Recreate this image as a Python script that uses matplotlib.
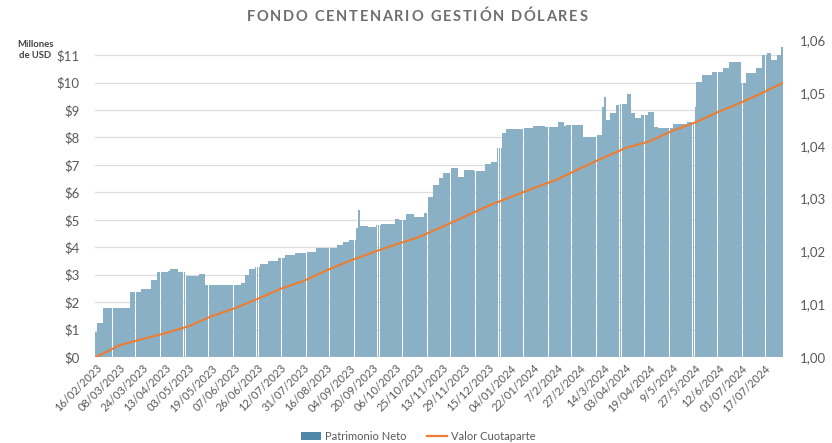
import matplotlib
matplotlib.use("Agg")
import matplotlib.pyplot as plt
from matplotlib.patches import Patch
from matplotlib.lines import Line2D
import numpy as np

# ---------------- data ----------------
title = "FONDO CENTENARIO GESTIÓN DÓLARES"

tick_labels = [
    "16/02/2023", "08/03/2023", "24/03/2023", "13/04/2023", "03/05/2023",
    "19/05/2023", "07/06/2023", "26/06/2023", "12/07/2023", "31/07/2023",
    "16/08/2023", "04/09/2023", "20/09/2023", "06/10/2023", "25/10/2023",
    "13/11/2023", "29/11/2023", "15/12/2023", "04/01/2024", "22/01/2024",
    "7/2/2024", "27/2/2024", "14/3/2024", "03/04/2024", "19/04/2024",
    "9/5/2024", "27/5/2024", "12/6/2024", "01/07/2024", "17/07/2024",
]
label_step = 12  # one label every 12 business days

# Patrimonio Neto (millions of USD), one value per business day
patrimonio = [
    0.92, 1.23, 1.23, 1.23, 1.77, 1.77, 1.77, 1.77, 1.77, 1.77, 1.77, 1.77,
    1.77, 1.77, 1.77, 1.77, 1.77, 1.77, 2.36, 2.36, 2.36, 2.36, 2.36, 2.36,
    2.47, 2.47, 2.47, 2.47, 2.47, 2.80, 2.80, 2.80, 3.11, 3.11, 3.11, 3.11,
    3.11, 3.11, 3.14, 3.20, 3.20, 3.20, 3.20, 3.11, 3.11, 3.11, 3.11, 2.95,
    2.95, 2.95, 2.95, 2.95, 2.95, 2.95, 3.02, 3.02, 3.02, 2.62, 2.62, 2.62,
    2.62, 2.62, 2.62, 2.62, 2.62, 2.62, 2.62, 2.62, 2.62, 2.63, 2.63, 2.63,
    2.63, 2.63, 2.64, 2.64, 2.68, 2.68, 2.99, 2.99, 3.19, 3.19, 3.19, 3.29,
    3.29, 3.29, 3.39, 3.39, 3.39, 3.39, 3.50, 3.50, 3.50, 3.50, 3.50, 3.62,
    3.62, 3.62, 3.62, 3.72, 3.72, 3.72, 3.72, 3.72, 3.78, 3.78, 3.78, 3.78,
    3.78, 3.78, 3.84, 3.84, 3.84, 3.84, 3.84, 3.98, 3.98, 3.98, 3.98, 3.98,
    3.98, 3.98, 3.96, 3.96, 3.96, 3.96, 4.08, 4.08, 4.08, 4.20, 4.20, 4.20,
    4.26, 4.26, 4.26, 4.26, 4.69, 5.36, 4.77, 4.77, 4.77, 4.77, 4.75, 4.75,
    4.75, 4.75, 4.81, 4.81, 4.81, 4.83, 4.83, 4.83, 4.83, 4.83, 4.83, 4.83,
    5.02, 5.02, 4.99, 4.99, 4.99, 4.99, 5.21, 5.21, 5.21, 5.21, 5.11, 5.11,
    5.11, 5.11, 5.11, 5.26, 5.26, 5.84, 5.84, 5.84, 6.27, 6.27, 6.27, 6.51,
    6.51, 6.69, 6.69, 6.69, 6.69, 6.87, 6.87, 6.87, 6.87, 6.55, 6.55, 6.55,
    6.81, 6.81, 6.81, 6.81, 6.81, 6.79, 6.79, 6.79, 6.79, 6.79, 6.79, 7.05,
    7.05, 7.05, 7.12, 7.12, 7.12, 7.60, 7.60, 7.60, 8.15, 8.15, 8.29, 8.29,
    8.29, 8.29, 8.29, 8.29, 8.29, 8.29, 8.29, 8.33, 8.33, 8.33, 8.33, 8.33,
    8.42, 8.42, 8.42, 8.42, 8.42, 8.42, 8.37, 8.37, 8.37, 8.37, 8.37, 8.37,
    8.37, 8.57, 8.57, 8.57, 8.42, 8.45, 8.45, 8.45, 8.45, 8.45, 8.45, 8.45,
    8.45, 8.45, 8.03, 8.03, 8.03, 8.03, 8.03, 8.03, 8.03, 8.09, 8.09, 8.09,
    9.12, 9.48, 8.63, 8.63, 8.88, 8.88, 8.88, 9.18, 9.18, 9.22, 9.22, 9.22,
    9.22, 9.60, 9.60, 8.88, 8.88, 8.70, 8.70, 8.70, 8.82, 8.82, 8.82, 8.82,
    8.94, 8.94, 8.94, 8.39, 8.39, 8.33, 8.33, 8.33, 8.33, 8.33, 8.33, 8.33,
    8.33, 8.49, 8.49, 8.49, 8.49, 8.49, 8.49, 8.49, 8.57, 8.57, 8.57, 8.57,
    9.12, 10.03, 10.03, 10.03, 10.27, 10.27, 10.27, 10.27, 10.27, 10.39, 10.39, 10.39,
    10.39, 10.39, 10.39, 10.52, 10.52, 10.52, 10.76, 10.76, 10.76, 10.76, 10.76, 10.76,
    9.97, 9.97, 9.97, 10.36, 10.36, 10.36, 10.36, 10.36, 10.52, 10.52, 10.52, 11.00,
    11.00, 11.00, 11.06, 11.06, 10.82, 10.82, 10.82, 11.00, 11.00, 11.28,
]

# Valor Cuotaparte, read at business-day positions
cuota_idx = [0, 12, 24, 36, 48, 60, 72, 84, 96, 108, 120, 132, 144, 156, 168,
             180, 192, 204, 216, 228, 240, 252, 264, 276, 288, 300, 312, 324,
             336, 348, 357]
cuota_val = [1.0000, 1.0022, 1.0034, 1.0045, 1.0058, 1.0077, 1.0092, 1.0110,
             1.0129, 1.0144, 1.0164, 1.0182, 1.0198, 1.0213, 1.0227, 1.0246,
             1.0266, 1.0286, 1.0303, 1.0320, 1.0336, 1.0357, 1.0377, 1.0396,
             1.0408, 1.0428, 1.0444, 1.0464, 1.0482, 1.0502, 1.0518]

# ---------------- figure ----------------
W, H = 832, 443
fig = plt.figure(figsize=(W / 100, H / 100), dpi=100)
plt.rcParams['font.family'] = ['Lato', 'DejaVu Sans']

left, right, top, bottom = 95, 783, 40, 357
ax = fig.add_axes([left / W, 1 - bottom / H, (right - left) / W, (bottom - top) / H])

gray = "#595959"
bar_color = "#8AB0C5"
line_color = "#ED7D31"

n = len(patrimonio)
x = np.arange(n)
ax.bar(x, patrimonio, width=0.95, color=bar_color, linewidth=0, zorder=2)

ax.set_xlim(-0.6, n - 0.4)
ax.set_ylim(0, 11.55)
ax.set_yticks(range(0, 12))
ax.set_yticklabels([f"${v}" for v in range(0, 12)], color=gray, fontsize=9.5)
ax.yaxis.grid(True, color="#DDDDDD", linewidth=0.9, zorder=0)
ax.set_axisbelow(True)
for s in ax.spines.values():
    s.set_visible(False)
ax.axhline(0, color="#BFBFBF", linewidth=1.0, zorder=3)
ax.tick_params(axis="y", length=0, pad=11)

ticks = [i * label_step for i in range(len(tick_labels))]
ax.set_xticks(ticks)
ax.set_xticklabels(tick_labels, rotation=45, ha="right", rotation_mode="anchor",
                   color=gray, fontsize=8)
ax.tick_params(axis="x", length=0, pad=4)

ax2 = ax.twinx()
ax2.plot(cuota_idx, cuota_val, color=line_color, linewidth=1.5, zorder=4)
ax2.set_ylim(1.0, 1.06)
rticks = [1.00, 1.01, 1.02, 1.03, 1.04, 1.05, 1.06]
ax2.set_yticks(rticks)
ax2.set_yticklabels([f"{v:.2f}".replace(".", ",") for v in rticks],
                    color=gray, fontsize=9.5)
ax2.tick_params(axis="y", length=0, pad=12)
for s in ax2.spines.values():
    s.set_visible(False)

# letter-spaced title
renderer = fig.canvas.get_renderer()
tprops = dict(fontsize=10.5, fontweight="bold", color="#6E6E6E", va="center")
spacing = 1.7  # px between letters
widths = []
for ch in title:
    t = fig.text(0, 0, ch if ch != " " else "a", **tprops)
    bb = t.get_window_extent(renderer)
    widths.append(bb.width * (0.55 if ch == " " else 1.0))
    t.remove()
total = sum(widths) + spacing * (len(title) - 1)
xpos = 417 - total / 2
for ch, w in zip(title, widths):
    if ch != " ":
        fig.text(xpos / W, 1 - 17 / H, ch, ha="left", **tprops)
    xpos += w + spacing

fig.text(35 / W, 1 - 50 / H, "Millones\nde USD", ha="center", va="center",
         fontsize=6.8, fontweight="bold", color="#404040", linespacing=1.35)

handles = [Patch(facecolor="#4F87A8", edgecolor="none"),
           Line2D([0], [0], color=line_color, linewidth=1.6)]
fig.legend(handles, ["Patrimonio Neto", "Valor Cuotaparte"], loc="center",
           bbox_to_anchor=(418 / W, 1 - 436 / H), ncol=2, frameon=False,
           fontsize=8, labelcolor=gray, handlelength=1.8, handleheight=0.7,
           columnspacing=1.8, handletextpad=0.4)

fig.savefig("out.png", dpi=100)
